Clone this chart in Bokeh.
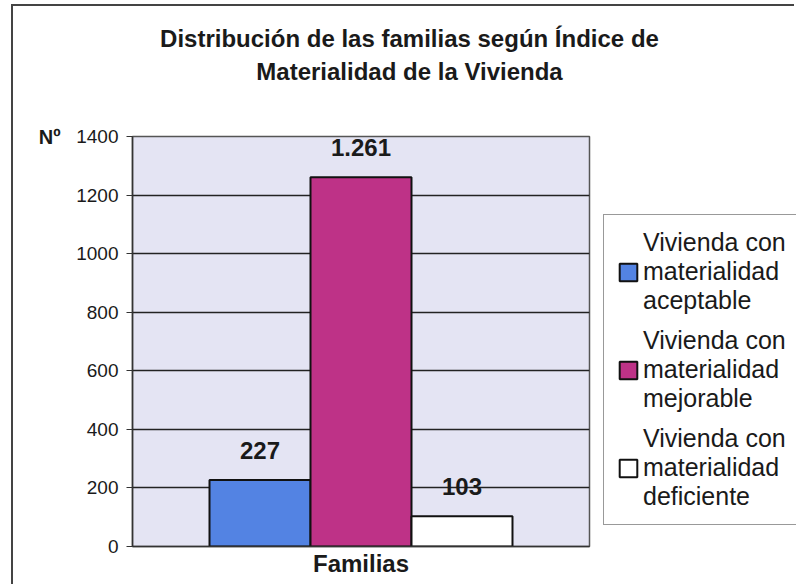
from bokeh.plotting import figure
from bokeh.layouts import row, column
from bokeh.models import (ColumnDataSource, Range1d, FactorRange, Legend, LegendItem,
                          LinearAxis, FixedTicker, SingleIntervalTicker, Div)
from bokeh.transform import dodge
from bokeh.core.properties import value
from bokeh.embed import file_html
from bokeh.resources import INLINE

# ---- data ----
categories = ["Familias"]
series_names = ["Vivienda con\nmaterialidad\naceptable",
                "Vivienda con\nmaterialidad\nmejorable",
                "Vivienda con\nmaterialidad\ndeficiente"]
series_values = [227, 1261, 103]
series_colors = ["#5383E3", "#BE3287", "#FFFFFF"]
y_max = 1400
y_tick_interval = 200
y_unit_label = "Nº"
title_lines = ["Distribución de las familias según Índice de",
               "Materialidad de la Vivienda"]

FONT = "Liberation Sans"
TOTAL_W = 783
TITLE_H = 112
BODY_H = 468
MAIN_W = 578
LEG_W = TOTAL_W - MAIN_W

# ---- title block ----
title_div = Div(
    text=('<div style="font-family:\'Liberation Sans\',Arial,sans-serif;'
          'font-weight:bold;font-size:24px;line-height:33px;color:#1a1a1a;'
          'text-align:center;padding:16px 0 0 17px;width:776px;margin:0;">'
          + "<br>".join(title_lines) + "</div>"),
    width=TOTAL_W, height=TITLE_H, margin=0)

# ---- main chart ----
p = figure(width=MAIN_W, height=BODY_H, output_backend="svg", toolbar_location=None,
           title=None,
           x_range=FactorRange(factors=categories), y_range=Range1d(0, y_max),
           min_border_left=119, min_border_right=2, min_border_top=18,
           min_border_bottom=40)
p.background_fill_color = "#E4E4F3"
p.border_fill_color = "white"
p.outline_line_color = "#555555"
p.outline_line_width = 1.5

p.xgrid.grid_line_color = None
p.ygrid.grid_line_color = "#222222"
p.ygrid.grid_line_width = 1.3

p.yaxis.ticker = SingleIntervalTicker(interval=y_tick_interval)
p.yaxis.minor_tick_line_color = None
p.yaxis.major_tick_in = 0
p.yaxis.major_tick_out = 6
p.yaxis.major_tick_line_color = "#333333"
p.yaxis.axis_line_color = "#333333"
p.yaxis.axis_line_width = 1.5
p.yaxis.major_label_text_font = FONT
p.yaxis.major_label_text_font_size = "19px"
p.yaxis.major_label_text_color = "#1a1a1a"
p.yaxis.major_label_standoff = 8

# unit label "Nº" beside the top tick
unit_axis = LinearAxis(ticker=FixedTicker(ticks=[y_max]),
                       major_label_overrides={y_max: y_unit_label})
unit_axis.axis_line_color = None
unit_axis.major_tick_line_color = None
unit_axis.major_tick_out = 0
unit_axis.major_tick_in = 0
unit_axis.minor_tick_line_color = None
unit_axis.major_label_text_font = FONT
unit_axis.major_label_text_font_style = "bold"
unit_axis.major_label_text_font_size = "20px"
unit_axis.major_label_text_color = "#1a1a1a"
unit_axis.major_label_standoff = 13
p.add_layout(unit_axis, "left")

p.xaxis.major_tick_line_color = None
p.xaxis.minor_tick_line_color = None
p.xaxis.axis_line_color = "#333333"
p.xaxis.axis_line_width = 1.5
p.xaxis.major_label_text_font = FONT
p.xaxis.major_label_text_font_style = "bold"
p.xaxis.major_label_text_font_size = "24px"
p.xaxis.major_label_text_color = "#1a1a1a"
p.xaxis.major_label_standoff = -3

bar_w = 0.221
n = len(series_values)
sources = []
for i, (v, c) in enumerate(zip(series_values, series_colors)):
    src = ColumnDataSource(dict(x=categories, top=[v],
                                lab=[f"{v:,}".replace(",", ".")]))
    sources.append(src)
    off = (i - (n - 1) / 2) * bar_w
    p.vbar(x=dodge("x", off, range=p.x_range), top="top", width=bar_w,
           source=src, fill_color=c, line_color="#111111", line_width=2)
    p.text(x=dodge("x", off, range=p.x_range), y="top", text="lab", source=src,
           text_align="center", text_baseline="bottom", y_offset=-21,
           text_font=value(FONT), text_font_style="bold",
           text_font_size="24px", text_color="#1a1a1a")

# ---- legend panel ----
q = figure(width=LEG_W, height=BODY_H, output_backend="svg", toolbar_location=None,
           title=None, x_range=FactorRange(factors=categories),
           y_range=Range1d(0, y_max),
           x_axis_location=None, y_axis_location=None,
           min_border=0, min_border_left=0, min_border_right=0,
           min_border_top=0, min_border_bottom=0)
q.grid.visible = False
q.outline_line_color = None
q.background_fill_color = "white"
q.border_fill_color = "white"

items = []
for name, c, src in zip(series_names, series_colors, sources):
    # same series, hidden here: only used to draw the legend swatches
    r = q.vbar(x="x", top="top", width=bar_w, source=src, fill_color=c,
               line_color="#111111", line_width=2, visible=False)
    items.append(LegendItem(label=name, renderers=[r]))

legend = Legend(items=items, location=(12, 21))
legend.label_text_font = FONT
legend.label_text_font_size = "25px"
legend.label_text_line_height = 1.25
legend.label_text_color = "#1a1a1a"
legend.glyph_width = 22
legend.glyph_height = 22
legend.label_standoff = 4
legend.label_width = 160
legend.spacing = 11
legend.padding = 13
legend.margin = 0
legend.inactive_fill_alpha = 0
legend.border_line_color = "#333333"
legend.border_line_width = 1.5
legend.background_fill_color = "white"
legend.background_fill_alpha = 1
q.add_layout(legend)

layout = column(title_div, row(p, q, spacing=0), spacing=0,
                margin=(6, 0, 0, 13),
                styles={"box-shadow": "-2px -2px 0 0 #444444"})

open("out.html", "w").write(file_html(layout, INLINE))
